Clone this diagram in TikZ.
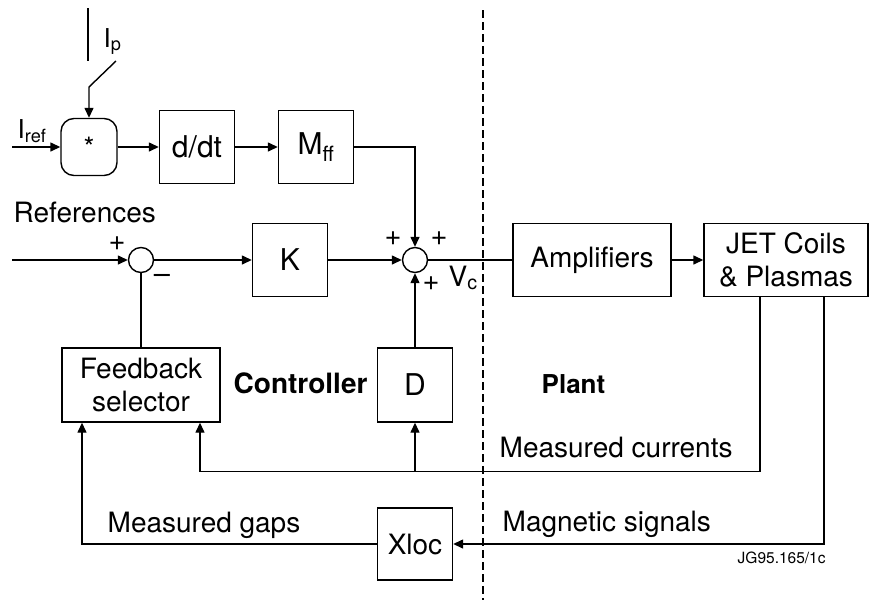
\documentclass[tikz,border=0pt]{standalone}
\usepackage{fontspec}
\setmainfont{TeX Gyre Heros}
\usetikzlibrary{arrows.meta}

\begin{document}
\begin{tikzpicture}[x=1pt, y=1pt, node distance=100pt, line width=1.4pt,
    >={Triangle[length=10pt,width=9pt]},
    block/.style={draw, rectangle, minimum width=75pt, minimum height=73pt,
                  inner sep=0pt, font=\fontsize{30}{32}\selectfont},
    wideblock/.style={draw, rectangle, minimum width=158pt, minimum height=73pt,
                  inner sep=0pt, align=center, font=\fontsize{28}{33}\selectfont},
    sumpt/.style={draw, circle, minimum size=25pt, inner sep=0pt},
    sign/.style={font=\fontsize{29}{29}\selectfont, inner sep=0pt},
    lbl/.style={anchor=base west, inner sep=0pt, font=\fontsize{28}{30}\selectfont}]
  \useasboundingbox (0,0) rectangle (870,-600);

  % feedforward row
  \node (mult) [draw, rectangle, rounded corners=13pt, minimum width=56pt,
                minimum height=57pt, inner sep=0pt, font=\fontsize{28}{28}\selectfont]
               at (89,-147) {\raisebox{-0.3em}{*}};
  \node (ddt) [block, right of=mult, xshift=8pt]  {d/dt};
  \node (mff) [block, right of=ddt, xshift=19pt]  {M\textsubscript{ff}};

  % main loop
  \node (sum1) [sumpt] at (141,-260) {};
  \node (K)    [block, right of=sum1, xshift=49pt]  {K};
  \node (sum2) [sumpt, right of=K, xshift=25pt]     {};
  \node (amp)  [wideblock, right of=sum2, xshift=77pt] {Amplifiers};
  \node (jet)  [wideblock, minimum width=164pt, right of=amp, xshift=94pt]
               {JET Coils\\\& Plasmas};

  \node (fbsel) [wideblock, minimum height=74pt, below of=sum1, yshift=-25pt]
                {Feedback\\selector};
  \node (D)     [block, minimum height=74pt, below of=sum2, yshift=-25pt] {D};
  \node (xloc)  [block, font=\fontsize{28}{30}\selectfont, minimum height=72pt,
                 below of=D, yshift=-59pt] {Xloc};

  % free ends and taps
  \coordinate (ipTop)  at (88,-8);
  \coordinate (ipBot)  at (88,-61);
  \coordinate (swTip)  at (116,-61);
  \coordinate (swPiv)  at (89,-87);
  \coordinate (irefIn) at (12,-147);
  \coordinate (refIn)  at (12,-260);
  \coordinate (curOut) at ([xshift=-26pt]jet.south);
  \coordinate (magOut) at ([xshift=38pt]jet.south);
  \coordinate (fbIn1)  at ([xshift=-59pt]fbsel.south);
  \coordinate (fbIn2)  at ([xshift=59pt]fbsel.south);

  % plant / controller border
  \draw[dash pattern=on 8pt off 4pt] (483,-10) -- (483,-600);

  % labels
  \node (ip)    [lbl, font=\fontsize{26}{28}\selectfont] at (103,-47) {I\textsubscript{p}};
  \node (iref)  [lbl, font=\fontsize{26}{28}\selectfont] at (17,-138) {I\textsubscript{ref}};
  \node (refs)  [lbl] at (13,-222) {References};
  \node (ctrl)  [lbl, font=\fontsize{28}{30}\bfseries] at (233,-393) {Controller};
  \node (plant) [lbl, font=\fontsize{26}{30}\bfseries] at (541,-393) {Plant};
  \node (mcur)  [lbl] at (499,-457) {Measured currents};
  \node (mmag)  [lbl] at (502,-531) {Magnetic signals};
  \node (mgap)  [lbl] at (107,-532) {Measured gaps};
  \node (vc)    [lbl] at (448,-286) {V\textsubscript{c}};
  \node (tag)   [lbl, font=\fontsize{15.5}{17}\selectfont] at (737,-563) {JG95.165/1c};

  \node (s1a) [sign] at (117,-244) {+};
  \node (s1b) [sign] at (162,-279) {--};
  \node (s2a) [sign] at (393,-239) {+};
  \node (s2b) [sign] at (439,-239) {+};
  \node (s2c) [sign] at (431,-284) {+};

  % connectors
  \draw (ipTop) -- (ipBot);
  \draw[->] (swTip) -- (swPiv) -- (mult);
  \draw[->] (irefIn) -- (mult);
  \draw[->] (mult) -- (ddt);
  \draw[->] (ddt) -- (mff);
  \draw[->] (mff) -| (sum2);
  \draw[->] (refIn) -- (sum1);
  \draw[->] (sum1) -- (K);
  \draw[->] (K) -- (sum2);
  \draw (sum2) -- (amp);
  \draw[->] (amp) -- (jet);
  \draw (fbsel) -- (sum1);
  \draw[->] (D) -- (sum2);
  \draw[->] (curOut) |- ([yshift=-49pt]fbIn2) -- (fbIn2);
  \draw[->] ([yshift=-49pt]D.south) -- (D);
  \draw[->] (magOut) |- (xloc);
  \draw[->] (xloc) -| (fbIn1);
\end{tikzpicture}
\end{document}
